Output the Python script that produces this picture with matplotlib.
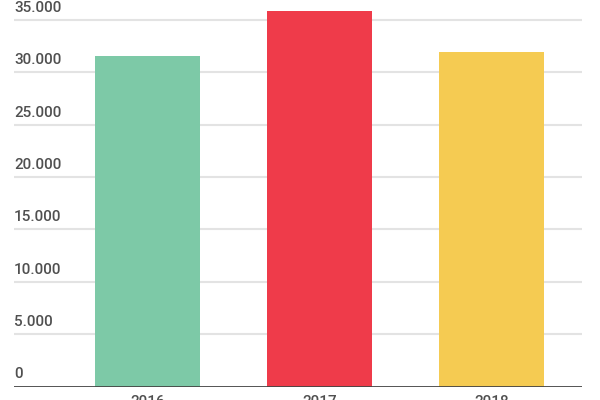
import matplotlib.pyplot as plt

# Дані
years = ["2016", "2017", "2018"]
values = [31500, 35800, 31900]
colors = ["#7DC9A7", "#EF3B4A", "#F5CB52"]
y_ticks = [0, 5000, 10000, 15000, 20000, 25000, 30000, 35000]
y_labels = ["0", "5.000", "10.000", "15.000", "20.000", "25.000", "30.000", "35.000"]

plt.rcParams['font.family'] = ['Roboto', 'DejaVu Sans']

fig = plt.figure(figsize=(6, 4), dpi=100)
ax = fig.add_axes([14 / 600, 13.5 / 400, 568 / 600, 386.5 / 400])

x = range(len(years))
ax.bar(x, values, width=0.61, color=colors, zorder=2)

# Сітка
for t in y_ticks[1:]:
    ax.axhline(t, color="#e3e3e3", linewidth=1.5, zorder=1)
ax.axhline(0, color="#444444", linewidth=2.0, zorder=3)

ax.set_xlim(-0.776, 2.526)
ax.set_ylim(0, 36880)

# Підписи осі Y над лініями сітки
for t, lab in zip(y_ticks, y_labels):
    ax.annotate(lab, xy=(0, t), xycoords=("axes fraction", "data"),
                xytext=(0, 3.6), textcoords="offset points",
                ha="left", va="bottom", fontsize=11, color="#505050",
                fontweight="medium", zorder=4)

# Підписи осі X
for i, yr in enumerate(years):
    ax.annotate(yr, xy=(i, 0), xycoords="data",
                xytext=(0, -6), textcoords="offset points",
                ha="center", va="top", fontsize=11, color="#505050",
                fontweight="medium", annotation_clip=False)

ax.set_xticks([])
ax.set_yticks([])
for s in ax.spines.values():
    s.set_visible(False)

plt.savefig("out.png", dpi=100)
